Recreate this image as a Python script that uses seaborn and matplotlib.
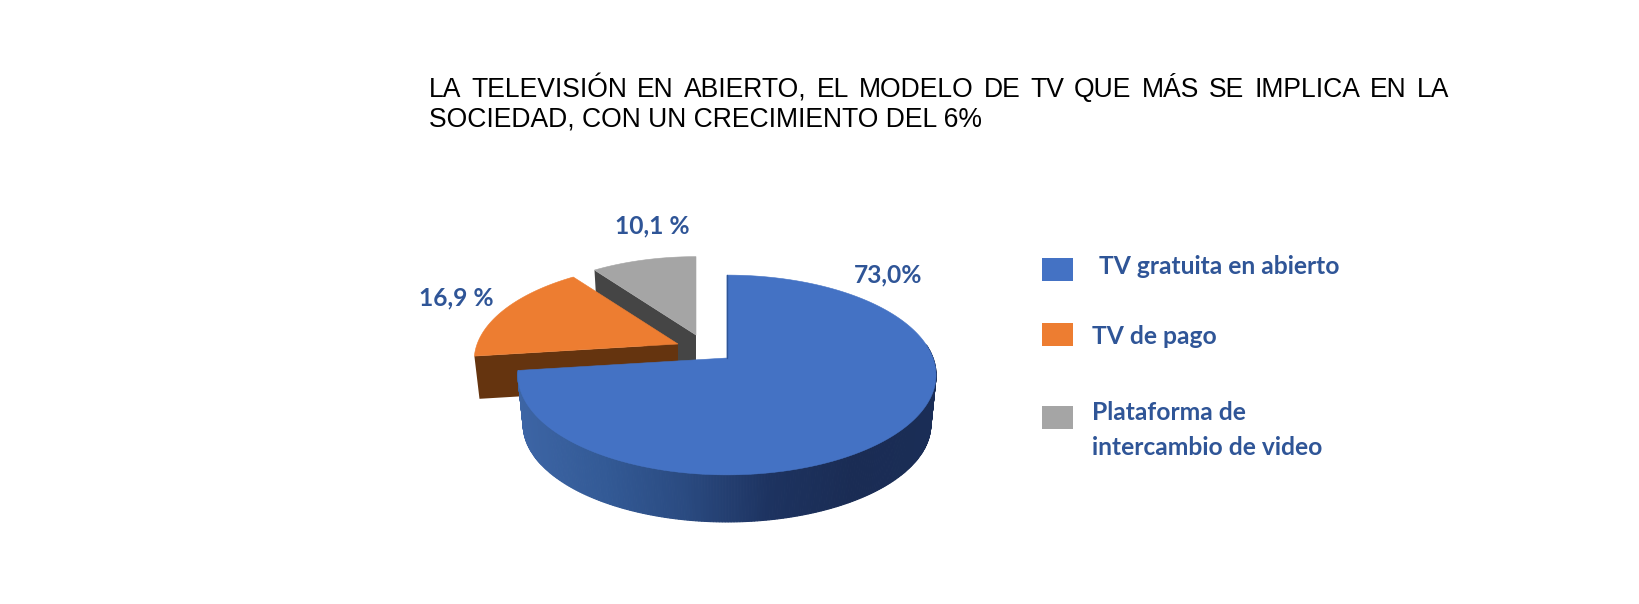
import numpy as np
import matplotlib
matplotlib.use("Agg")
import matplotlib.pyplot as plt
from matplotlib.patches import Rectangle
import seaborn as sns

# data
categories = ["TV gratuita en abierto", "TV de pago", "Plataforma de\nintercambio de video"]
values = [73.0, 16.9, 10.1]
value_labels = ["73,0%", "16,9 %", "10,1 %"]
colors = ["#4472C4", "#ED7D31", "#A5A5A5"]
wall_colors = [None, "#65340F", "#454545"]
title_lines = ["LA TELEVISIÓN EN ABIERTO, EL MODELO DE TV QUE MÁS SE IMPLICA EN LA",
               "SOCIEDAD, CON UN CRECIMIENTO DEL 6%"]

sns.set_theme(style="white")
plt.rcParams["font.family"] = ["Lato", "DejaVu Sans"]

# layout, in pixels of the 1640x604 picture
RX, RY, PERSP = 206, 97, 0.17
apex = [(727, 358), (678, 344), (696, 335)]
scale = [1.0, 0.975, 0.945]
depth = [50, 43, 42]
LOWER = 0.975
label_pos = [(888, 275), (456, 298), (652, 226)]
swatch_y = [258, 323, 406]
legend_x = [1099, 1092, 1092]
legend_y = [266, 337, 430]
LABEL_BLUE = "#2F5597"
TITLE_LEFT, TITLE_RIGHT = 429, 1449

fig = plt.figure(figsize=(16.4, 6.04), dpi=100)
ax = fig.add_axes([0, 0, 1, 1])
ax.set_xlim(0, 1640)
ax.set_ylim(604, 0)
ax.axis("off")


def project(theta, i, lower=False):
    # flat disc seen from above, the far side comes out smaller
    u, v = np.cos(np.radians(theta)), np.sin(np.radians(theta))
    w = 1 + PERSP * v
    s = scale[i] * (LOWER if lower else 1)
    y0 = apex[i][1] + (depth[i] if lower else 0)
    return apex[i][0] + s * RX * u / w, y0 - s * RY * v / w


# slice angles come from the values, clockwise from 12 o'clock
ends = 90 - np.cumsum(values) * 3.6
starts = np.r_[90, ends[:-1]]


def draw_top(i):
    th = np.linspace(starts[i], ends[i], 200)
    x, y = project(th, i)
    ax.fill(np.r_[apex[i][0], x], np.r_[apex[i][1], y], color=colors[i], lw=0.4)


def draw_cut_wall(i, **kw):
    # face under the edge that runs from the apex to the slice's first corner
    xa, ya = project(starts[i], i)
    xb, yb = project(starts[i], i, lower=True)
    ax.fill([apex[i][0], xa, xb, apex[i][0]],
            [apex[i][1], ya, yb, apex[i][1] + depth[i]], color=wall_colors[i], **kw)


draw_cut_wall(2, lw=0)
draw_top(2)

draw_cut_wall(1, lw=0)
draw_top(1)

# blue slice, side wall shaded from left to right
wall_palette = sns.blend_palette(["#3D65A5", "#335A96", "#2A4A80", "#1D3360", "#1A2C54", "#1A2D56"], n_colors=256)
th = np.linspace(ends[0], 8, 260)
xt, yt = project(th, 0)
xl, yl = project(th, 0, lower=True)
for k in range(len(th) - 1):
    frac = (xt[k] - xt.min()) / (xt.max() - xt.min())
    c = wall_palette[int(frac * 255)]
    ax.fill([xt[k], xt[k + 1], xl[k + 1], xl[k]], [yt[k], yt[k + 1], yl[k + 1], yl[k]], color=c, lw=0.8)
draw_top(0)
ax.plot([apex[0][0], apex[0][0]], [apex[0][1], project(90, 0)[1]], color="#2F5597", lw=1)

# value labels
for (lx, ly), txt in zip(label_pos, value_labels):
    ax.text(lx, ly, txt, color=LABEL_BLUE, fontsize=17.7, fontweight="bold", ha="center", va="center")

# legend
for i, cat in enumerate(categories):
    ax.add_patch(Rectangle((1042, swatch_y[i]), 31, 23, color=colors[i], lw=0))
    ax.text(legend_x[i], legend_y[i], cat, color=LABEL_BLUE, fontsize=17.7, fontweight="bold",
            ha="left", va="center", linespacing=1.6)

# title, first line is justified so the spaces get stretched
renderer = fig.canvas.get_renderer()
words = title_lines[0].split(" ")
pieces = [ax.text(0, 97, w, color="black", fontsize=19.1, family="Liberation Sans", va="baseline") for w in words]
widths = [p.get_window_extent(renderer).width for p in pieces]
gap = (TITLE_RIGHT - TITLE_LEFT - sum(widths)) / (len(words) - 1)
xpos = TITLE_LEFT
for p, wd in zip(pieces, widths):
    p.set_x(xpos)
    xpos += wd + gap
ax.text(TITLE_LEFT, 127, title_lines[1], color="black", fontsize=19.1, family="Liberation Sans", va="baseline")

fig.savefig("out.png", dpi=100, facecolor="white")
